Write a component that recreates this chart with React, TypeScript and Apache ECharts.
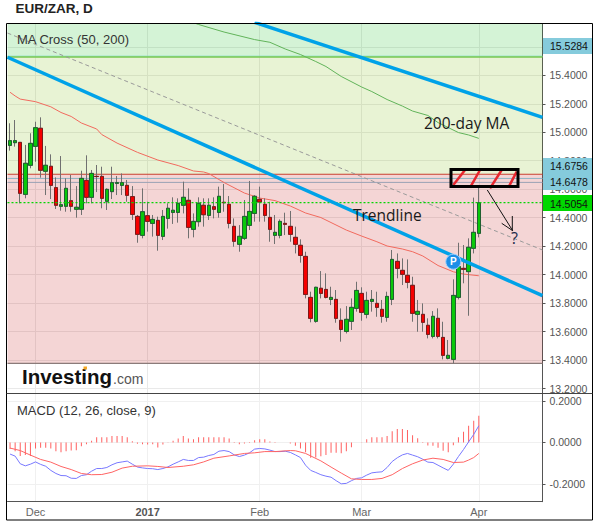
import React, { useEffect, useRef } from "react";
import * as echarts from "echarts";

// [open, close, low, high]
const candles: number[][] = [
  [14.908,14.941,14.871,15.063],[14.927,14.941,14.899,15.086],[14.929,14.571,14.501,14.929],[14.564,14.782,14.536,14.911],
  [14.768,14.922,14.747,14.993],[14.901,15.032,14.793,15.074],[15.028,14.733,14.681,15.105],[14.726,14.768,14.559,14.904],
  [14.761,14.627,14.531,14.845],[14.611,14.487,14.461,14.683],[14.480,14.491,14.449,14.833],[14.480,14.606,14.442,14.676],
  [14.519,14.480,14.442,14.700],[14.459,14.473,14.400,14.622],[14.459,14.676,14.419,14.730],[14.662,14.543,14.501,14.838],
  [14.543,14.711,14.501,14.735],[14.690,14.689,14.580,14.770],[14.690,14.536,14.466,14.758],[14.515,14.599,14.454,14.606],
  [14.583,14.646,14.531,14.758],[14.641,14.646,14.559,14.693],[14.627,14.646,14.559,14.711],[14.627,14.557,14.512,14.665],
  [14.548,14.423,14.384,14.622],[14.409,14.283,14.224,14.419],[14.276,14.442,14.255,14.606],[14.414,14.374,14.302,14.512],
  [14.360,14.388,14.267,14.419],[14.381,14.276,14.168,14.407],[14.269,14.409,14.243,14.454],[14.395,14.466,14.323,14.501],
  [14.437,14.452,14.356,14.543],[14.437,14.501,14.365,14.536],[14.487,14.543,14.430,14.653],[14.522,14.332,14.255,14.606],
  [14.318,14.374,14.262,14.430],[14.372,14.501,14.337,14.543],[14.487,14.421,14.337,14.536],[14.416,14.487,14.384,14.536],
  [14.477,14.459,14.395,14.543],[14.437,14.550,14.400,14.618],[14.508,14.505,14.442,14.637],[14.494,14.360,14.325,14.552],
  [14.339,14.234,14.196,14.395],[14.213,14.269,14.161,14.348],[14.255,14.409,14.243,14.524],[14.346,14.444,14.313,14.658],
  [14.430,14.550,14.372,14.559],[14.529,14.510,14.372,14.618],[14.494,14.416,14.372,14.536],[14.402,14.318,14.231,14.512],
  [14.276,14.297,14.215,14.419],[14.276,14.374,14.255,14.388],[14.360,14.353,14.278,14.435],[14.339,14.283,14.231,14.447],
  [14.262,14.213,14.149,14.337],[14.206,14.135,14.084,14.248],[14.128,13.861,13.833,14.161],[13.840,13.693,13.665,13.880],
  [13.672,13.911,13.662,13.915],[13.904,13.868,13.833,14.025],[13.896,13.840,13.833,14.009],[13.826,13.840,13.786,13.915],
  [13.826,13.693,13.662,13.892],[13.679,13.615,13.529,13.763],[13.601,13.686,13.587,13.779],[13.672,13.770,13.611,13.833],
  [13.763,13.889,13.740,13.950],[13.868,13.735,13.676,13.911],[13.721,13.819,13.693,13.880],[13.812,13.826,13.740,13.892],
  [13.798,13.770,13.704,13.880],[13.756,13.707,13.662,13.822],[13.700,13.847,13.669,13.880],[13.826,14.107,13.786,14.173],
  [14.093,14.044,13.974,14.149],[14.030,14.002,13.927,14.114],[13.995,13.946,13.904,14.107],[13.925,13.728,13.669,13.985],
  [13.721,13.742,13.599,13.822],[13.721,13.665,13.599,13.798],[13.644,13.580,13.552,13.693],[13.566,13.707,13.552,13.744],
  [13.693,13.566,13.552,13.763],[13.559,13.433,13.405,13.669],[13.412,13.433,13.405,13.541],[13.405,13.854,13.377,13.967],
  [13.840,14.056,13.826,14.224],[14.044,14.037,13.939,14.208],[14.021,14.192,13.711,14.255],[14.185,14.297,14.149,14.541],
  [14.290,14.5054,14.262,14.618],
];

const ma50: number[][] = [
  [0,15.281],[1,15.255],[2,15.233],[5,15.215],[8,15.179],[10,15.139],[12,15.111],[14,15.065],[17,15.023],[18,14.984],
  [21,14.924],[25,14.859],[29,14.805],[33,14.766],[36,14.728],[38,14.721],[39,14.710],[42,14.647],[46,14.573],[49,14.538],
  [52,14.520],[55,14.482],[58,14.433],[61,14.401],[66,14.313],[69,14.271],[72,14.231],[74,14.201],[77,14.180],[79,14.161],
  [81,14.131],[84,14.064],[87,14.020],[89,14.004],[92,13.992],
];
const ma200: number[][] = [
  [36,15.770],[37,15.757],[42,15.704],[48,15.651],[51,15.632],[54,15.585],[57,15.546],[60,15.497],[62,15.462],[65,15.392],
  [69,15.318],[71,15.286],[74,15.230],[77,15.184],[79,15.149],[82,15.118],[84,15.068],[88,14.998],[90,14.981],[92,14.957],
];

const trendLower: number[][] = [[-0.5,15.527],[104.5,13.852]];
const trendUpper: number[][] = [[48,15.772],[104.5,15.105]];
const trendDashed: number[][] = [[-0.5,15.697],[104.5,14.173]];

const macdHist: number[] = [
  -0.031,-0.042,-0.065,-0.061,-0.065,-0.029,-0.026,-0.026,-0.029,-0.042,-0.047,-0.042,-0.039,-0.037,-0.018,-0.008,
  0.008,0.026,0.026,0.026,0.032,0.032,0.031,0.026,0.006,-0.006,-0.008,-0.01,-0.008,-0.024,-0.01,0.001,
  0.008,0.019,0.031,0.019,0.016,0.026,0.026,0.026,0.026,0.026,0.026,0.019,0.003,-0.008,-0.005,0.003,
  0.011,0.016,0.016,0.005,0.002,0,0,-0.005,-0.016,-0.029,-0.047,-0.074,-0.073,-0.066,-0.061,-0.05,
  -0.05,-0.052,-0.042,-0.023,0,0.001,0.016,0.026,0.026,0.026,0.032,0.055,0.065,0.065,0.06,0.035,
  0.021,0.002,-0.015,-0.016,-0.026,-0.04,-0.047,-0.013,0.026,0.052,0.081,0.105,0.129,
];
const macdLine: number[] = [
  -0.056,-0.066,-0.103,-0.113,-0.105,-0.094,-0.106,-0.115,-0.135,-0.15,-0.16,-0.161,-0.173,-0.174,-0.16,-0.156,
  -0.139,-0.126,-0.126,-0.121,-0.108,-0.098,-0.094,-0.09,-0.105,-0.119,-0.123,-0.126,-0.127,-0.131,-0.126,-0.118,
  -0.105,-0.094,-0.082,-0.087,-0.087,-0.073,-0.071,-0.063,-0.058,-0.042,-0.039,-0.044,-0.06,-0.068,-0.061,-0.05,
  -0.032,-0.029,-0.031,-0.037,-0.044,-0.044,-0.042,-0.048,-0.06,-0.073,-0.11,-0.135,-0.145,-0.156,-0.163,-0.168,
  -0.185,-0.2,-0.198,-0.185,-0.174,-0.171,-0.158,-0.147,-0.144,-0.142,-0.121,-0.092,-0.074,-0.06,-0.053,-0.061,
  -0.069,-0.081,-0.095,-0.097,-0.11,-0.123,-0.135,-0.105,-0.068,-0.034,0.003,0.039,0.081,
];
const macdSignal: number[][] = [
  [0,-0.027],[2,-0.039],[4,-0.061],[6,-0.082],[8,-0.095],[10,-0.116],[12,-0.131],[14,-0.15],[16,-0.156],[18,-0.155],
  [20,-0.144],[22,-0.124],[24,-0.115],[27,-0.113],[29,-0.116],[31,-0.121],[34,-0.115],[36,-0.108],[38,-0.094],[40,-0.076],
  [43,-0.065],[46,-0.053],[48,-0.05],[50,-0.044],[52,-0.044],[55,-0.039],[56,-0.04],[58,-0.053],[61,-0.089],[63,-0.119],
  [65,-0.148],[67,-0.176],[69,-0.179],[71,-0.179],[73,-0.174],[75,-0.156],[77,-0.126],[79,-0.103],[81,-0.085],[83,-0.076],
  [85,-0.082],[87,-0.097],[89,-0.095],[90,-0.085],[91,-0.073],[92,-0.053],
];

const priceTicks = [13.2,13.4,13.6,13.8,14.0,14.2,14.4,14.6,14.8,15.0,15.2,15.4,15.6];
const priceLabels = [13.2,13.4,13.6,13.8,14.0,14.2,14.4,14.6,14.8,15.0,15.2,15.4];
const macdTicks = [-0.2,0,0.2];
const timeTickIndex = [5,27,49,69,92];
const timeTickLabels = ["Dec","2017","Feb","Mar","Apr"];
const TOTAL_SLOTS = 105;
const categories = Array.from({ length: TOTAL_SLOTS }, (_, i) => {
  const k = timeTickIndex.indexOf(i);
  return k >= 0 ? timeTickLabels[k] : "";
});

const levelTop = 15.5284;
const levelRed = 14.705;
const levelA = 14.6756;
const levelB = 14.6478;
const levelClose = 14.5054;
const levelBottom = 13.376;
const PRICE_MIN = 13.165, PRICE_MAX = 15.764;
const MACD_MIN = -0.2867, MACD_MAX = 0.2373;

const FONT = '"Liberation Sans", Arial, sans-serif';
const NOTE_FONT = '"Open Sans", sans-serif';

const hline = (v: number) => [[-0.5, v],[104.5, v]];
const overlay = (data: any, color: string, width: number, z = 4, extra: any = {}) => ({
  type: "line", xAxisIndex: 2, yAxisIndex: 0, data, showSymbol: false, symbol: "none", silent: true, z,
  lineStyle: { color, width, ...extra },
});

function seg(x1: number, y1: number, x2: number, y2: number, stroke: string, lineWidth: number) {
  return { type: "line", z: 50, silent: true, shape: { x1, y1, x2, y2 }, style: { stroke, lineWidth } };
}
function label(text: string, x: number, y: number, font: string, fill: string) {
  return { type: "text", z: 60, silent: true, x, y, style: { text, font, fill, textVerticalAlign: "middle", textBaseline: "middle" } };
}

export default function App() {
  const ref = useRef<HTMLDivElement>(null);
  useEffect(() => {
    const chart = echarts.init(ref.current!, undefined, { renderer: "svg", width: 597, height: 523 });
    const left = 7.5, width = 535;
    const gridColor = "#e9e9e9";
    const option: any = {
      animation: false,
      backgroundColor: "#ffffff",
      grid: [
        { left, top: 23.5, width, height: 370 },
        { left, top: 393.5, width, height: 108.2 },
      ],
      xAxis: [
        { type: "category", gridIndex: 0, position: "bottom", data: categories, axisLine: { show: false, onZero: false }, axisTick: { show: false }, axisLabel: { show: false }, splitLine: { show: false } },
        {
          type: "category", gridIndex: 1, position: "bottom", data: categories,
          axisLine: { onZero: false, lineStyle: { color: "#555", width: 1 } },
          axisTick: { alignWithLabel: true, length: 3, lineStyle: { color: "#555" }, interval: (i: number) => timeTickIndex.includes(i) },
          axisLabel: {
            interval: (i: number) => timeTickIndex.includes(i), margin: 5,
            formatter: (v: string) => (v === "2017" ? `{b|${v}}` : `{n|${v}}`),
            rich: { b: { fontFamily: FONT, fontSize: 11, fontWeight: "bold", color: "#555" }, n: { fontFamily: FONT, fontSize: 11, color: "#666" } },
          },
          splitLine: { show: false },
        },
        {
          type: "value", gridIndex: 0, min: -0.5, max: 104.5, position: "top", show: true,
          axisLine: { show: false, onZero: false }, axisLabel: { show: false },
          axisTick: { show: false, customValues: timeTickIndex },
          splitLine: { show: true, lineStyle: { color: gridColor } },
        },
        {
          type: "value", gridIndex: 1, min: -0.5, max: 104.5, position: "top", show: true,
          axisLine: { show: false, onZero: false }, axisLabel: { show: false },
          axisTick: { show: false, customValues: timeTickIndex },
          splitLine: { show: true, lineStyle: { color: "#f0f0f0" } },
        },
      ],
      yAxis: [
        {
          type: "value", gridIndex: 0, position: "right", min: PRICE_MIN, max: PRICE_MAX,
          axisLine: { show: true, onZero: false, lineStyle: { color: "#555" } },
          axisTick: { show: true, length: 3, lineStyle: { color: "#555" }, customValues: priceTicks },
          axisLabel: { show: true, customValues: priceLabels, margin: 7, fontFamily: FONT, fontSize: 10.5, color: "#555", formatter: (v: number) => v.toFixed(4) },
          splitLine: { show: true, lineStyle: { color: gridColor } },
        },
        {
          type: "value", gridIndex: 1, position: "right", min: MACD_MIN, max: MACD_MAX,
          axisLine: { show: true, onZero: false, lineStyle: { color: "#555" } },
          axisTick: { show: true, length: 3, lineStyle: { color: "#555" }, customValues: macdTicks },
          axisLabel: { show: true, customValues: macdTicks, margin: 7, fontFamily: FONT, fontSize: 10.5, color: "#555", formatter: (v: number) => v.toFixed(4) },
          splitLine: { show: true, lineStyle: { color: "#f0f0f0" } },
        },
      ],
      series: [
        {
          type: "line", xAxisIndex: 2, yAxisIndex: 0, data: hline(levelTop), showSymbol: false, symbol: "none", silent: true, z: 1,
          lineStyle: { opacity: 0 },
          markArea: {
            silent: true,
            data: [
              [{ yAxis: levelTop, itemStyle: { color: "rgba(40,195,50,0.2)" } }, { yAxis: PRICE_MAX }],
              [{ yAxis: levelRed, itemStyle: { color: "rgba(140,195,40,0.2)" } }, { yAxis: levelTop }],
              [{ yAxis: levelBottom, itemStyle: { color: "rgba(200,45,45,0.2)" } }, { yAxis: levelRed }],
            ],
          },
        },
        overlay(hline(levelTop + 0.006), "#84dcc8", 1, 2),
        overlay(hline(levelTop), "#78c850", 1.4, 2),
        overlay(hline(levelRed), "#c8402f", 1.2, 2),
        overlay(hline(levelA), "#8db4c4", 1, 2),
        overlay(hline(levelB), "#9aa2b4", 1, 2),
        overlay(hline(levelBottom), "#8a7b7a", 1.2, 2),
        overlay(trendDashed, "#9a9a9a", 1, 3, { type: [4, 3] }),
        overlay(ma50, "#f26a5e", 1, 4),
        overlay(ma200, "#62b45a", 1, 4),
        {
          type: "candlestick", name: "wicks", xAxisIndex: 0, yAxisIndex: 0, data: candles, barWidth: 4, silent: true, z: 5,
          itemStyle: { color: "transparent", color0: "transparent", borderColor: "#707070", borderColor0: "#707070", borderWidth: 1 },
        },
        {
          type: "candlestick", name: "EUR/ZAR", xAxisIndex: 0, yAxisIndex: 0,
          data: candles.map(([o, c]) => [o, c, Math.min(o, c), Math.max(o, c)]),
          barWidth: 4, silent: true, z: 6,
          itemStyle: { color: "#0ac80a", color0: "#f50000", borderColor: "#1f6030", borderColor0: "#7c1a1a", borderWidth: 1 },
        },
        overlay(hline(levelClose), "#05d505", 1.2, 7, { type: [2, 2] }),
        overlay(trendLower, "#00a2e8", 3.5, 8),
        overlay(trendUpper, "#00a2e8", 3.5, 8),
        {
          type: "bar", name: "Histogram", xAxisIndex: 1, yAxisIndex: 1, data: macdHist, barWidth: 1, silent: true, z: 3,
          itemStyle: { color: "#ff5f5f" },
        },
        { type: "line", xAxisIndex: 3, yAxisIndex: 1, data: macdLine.map((v, i) => [i, v]), showSymbol: false, symbol: "none", silent: true, z: 4, lineStyle: { color: "#7878ff", width: 1 } },
        { type: "line", xAxisIndex: 3, yAxisIndex: 1, data: macdSignal, showSymbol: false, symbol: "none", silent: true, z: 5, lineStyle: { color: "#ff6464", width: 1 } },
      ],
      graphic: { elements: [
        // value boxes on the right axis
        { type: "rect", z: 40, silent: true, shape: { x: 543, y: 38, width: 49, height: 16 }, style: { fill: "#85cbdc" } },
        { type: "rect", z: 40, silent: true, shape: { x: 543, y: 158, width: 49, height: 32 }, style: { fill: "#85cbdc" } },
        { type: "rect", z: 40, silent: true, shape: { x: 543, y: 195, width: 49, height: 16 }, style: { fill: "#00d800" } },
        label("15.5284", 550, 46, `10.5px ${FONT}`, "#111"),
        label("14.6756", 550, 166, `10.5px ${FONT}`, "#111"),
        label("14.6478", 550, 182, `10.5px ${FONT}`, "#111"),
        label("14.5054", 550, 203.5, `10.5px ${FONT}`, "#111"),
        // frame
        { type: "rect", z: 45, silent: true, shape: { x: 6.5, y: 23.5, width: 586, height: 496.5 }, style: { fill: "none", stroke: "#000", lineWidth: 1 } },
        seg(6.5, 393.5, 592.5, 393.5, "#444", 1),
        // titles
        label("EUR/ZAR, D", 15.5, 8.5, `bold 13.5px ${FONT}`, "#222"),
        label("MA Cross (50, 200)", 17, 39.5, `13px ${FONT}`, "#333"),
        label("MACD (12, 26, close, 9)", 17, 410, `13px ${FONT}`, "#333"),
        // logo
        label("Investing", 22, 376, `bold 20.5px ${FONT}`, "#111"),
        label(".com", 113, 378.5, `14px ${FONT}`, "#555"),
        { type: "rect", z: 61, silent: true, shape: { x: 83.5, y: 366.5, width: 3.5, height: 3 }, style: { fill: "#f5a623" } },
        // hand-drawn notes
        label("200-day MA", 424, 122.5, `15.5px ${NOTE_FONT}`, "#1a1a1a"),
        label("Trendline", 353, 214.5, `15.5px ${NOTE_FONT}`, "#1a1a1a"),
        label("?", 511, 238, `16px ${NOTE_FONT}`, "#1a2a4a"),
        { type: "rect", z: 52, silent: true, shape: { x: 451, y: 169.5, width: 67, height: 17 }, style: { fill: "none", stroke: "#000", lineWidth: 3 } },
        seg(453.3, 185, 465, 170, "#e8262e", 2.5),
        seg(470, 187.7, 480, 170, "#e8262e", 2.5),
        seg(490, 188.3, 501.7, 170, "#e8262e", 2.5),
        seg(508.3, 187.7, 516.7, 171.7, "#e8262e", 2.5),
        seg(487.3, 190, 512.7, 230.7, "#111", 1),
        seg(512.3, 216, 512.3, 230.7, "#111", 1),
        seg(501.7, 223.3, 512.7, 230.7, "#111", 1),
        // pin
        { type: "circle", z: 55, silent: true, shape: { cx: 453.3, cy: 261.7, r: 7.5 }, style: { fill: "#1c8fe8", stroke: "#9fd0ff", lineWidth: 1 } },
        label("P", 450, 261.5, `bold 10px ${FONT}`, "#fff"),
      ] },
    };
    chart.setOption(option);
    return () => chart.dispose();
  }, []);
  return <div ref={ref} style={{ position: "absolute", left: 0, top: 0, width: 597, height: 523 }} />;
}
